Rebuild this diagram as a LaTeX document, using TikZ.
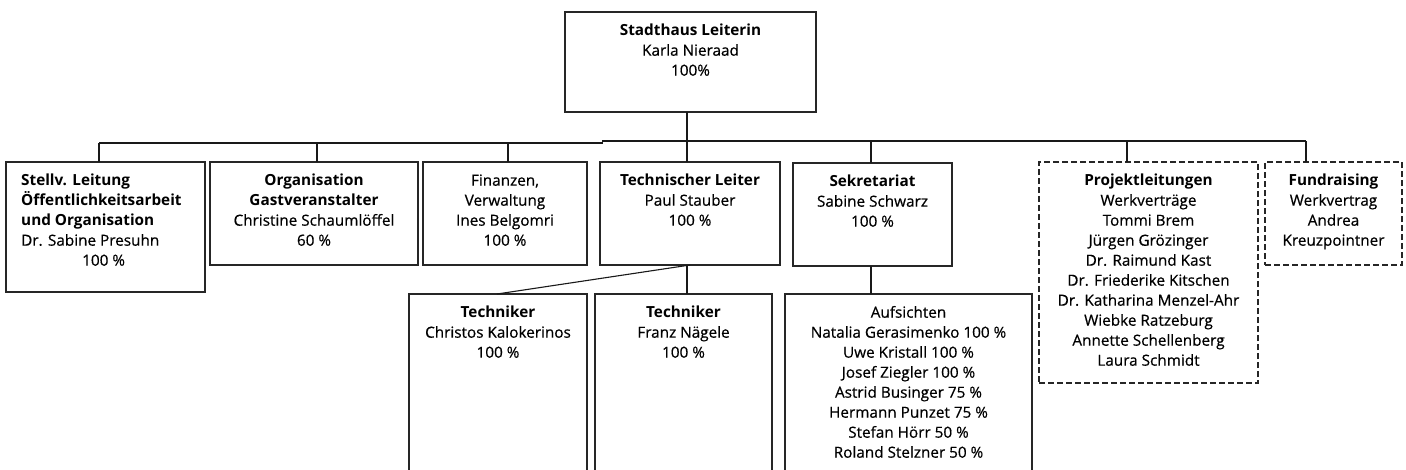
\documentclass[tikz,border=0pt]{standalone}
\usepackage{fontspec}
\setmainfont{Open Sans}[UprightFeatures={FakeBold=0.5}]
\newcommand\firstln{\rule{0pt}{12pt}}
\begin{document}
\begin{tikzpicture}[x=1pt,y=-1pt,
  box/.style={draw=black!85, line width=1.4pt, rectangle, inner sep=0pt, outer sep=0pt, anchor=north west},
  dbox/.style={box, dash pattern=on 6pt off 3pt},
  txt/.style={font=\fontsize{15.3}{20}\selectfont, align=center, inner sep=0pt, anchor=north, text=black},
  conn/.style={draw=black!90, line width=1.1pt}]
\useasboundingbox (0,0) rectangle (1406,469);
\fill[white] (0,0) rectangle (1406,469);
\clip (0,0) rectangle (1406,469);

% boxes
\node[box, minimum width=251pt, minimum height=100pt] (top) at (565,12) {};
\node[box, minimum width=199pt, minimum height=130pt] (b1) at (6,162) {};
\node[box, minimum width=208pt, minimum height=103pt] (b2) at (210,162) {};
\node[box, minimum width=164pt, minimum height=103pt] (b3) at (423,162) {};
\node[box, minimum width=180pt, minimum height=103pt] (b4) at (600,162) {};
\node[box, minimum width=159pt, minimum height=103pt] (b5) at (793,163) {};
\node[dbox, minimum width=219pt, minimum height=221pt] (b6) at (1039,162) {};
\node[dbox, minimum width=137pt, minimum height=103pt] (b7) at (1265,162) {};
\node[box, minimum width=178pt, minimum height=190pt] (t1) at (409,294) {};
\node[box, minimum width=177pt, minimum height=190pt] (t2) at (595,294) {};
\node[box, minimum width=247pt, minimum height=190pt] (auf) at (785,294) {};

% texts
\node[txt] (toptx) at ([yshift=-11.5pt]top.north) {\firstln\textbf{Stadthaus Leiterin}\\Karla Nieraad\\100\%};
\node[txt, anchor=north west, align=left] (b1tx) at (21,173.5) {\firstln\textbf{Stellv. Leitung}\\\textbf{Öffentlichkeitsarbeit}\\\textbf{und Organisation}\\Dr. Sabine Presuhn\\\hspace*{61pt}100 \%};
\node[txt] (b2tx) at ([yshift=-11.5pt]b2.north) {\firstln\textbf{Organisation}\\\textbf{Gastveranstalter}\\Christine Schaumlöffel\\60 \%};
\node[txt] (b3tx) at ([yshift=-11.5pt]b3.north) {\firstln Finanzen,\\Verwaltung\\Ines Belgomri\\100 \%};
\node[txt] (b4tx) at ([yshift=-11.5pt]b4.north) {\firstln\textbf{Technischer Leiter}\\Paul Stauber\\100 \%};
\node[txt] (b5tx) at ([yshift=-11.5pt]b5.north) {\firstln\textbf{Sekretariat}\\Sabine Schwarz\\100 \%};
\node[txt] (b6tx) at ([yshift=-11.5pt]b6.north) {\firstln\textbf{Projektleitungen}\\Werkverträge\\Tommi Brem\\Jürgen Grözinger\\Dr. Raimund Kast\\Dr. Friederike Kitschen\\Dr. Katharina Menzel-Ahr\\Wiebke Ratzeburg\\Annette Schellenberg\\Laura Schmidt};
\node[txt] (b7tx) at ([yshift=-11.5pt]b7.north) {\firstln\textbf{Fundraising}\\Werkvertrag\\Andrea\\Kreuzpointner};
\node[txt] (t1tx) at ([yshift=-11.5pt]t1.north) {\firstln\textbf{Techniker}\\Christos Kalokerinos\\100 \%};
\node[txt] (t2tx) at ([yshift=-11.5pt]t2.north) {\firstln\textbf{Techniker}\\Franz Nägele\\100 \%};
\node[txt] (auftx) at ([yshift=-11.5pt]auf.north) {\firstln Aufsichten\\Natalia Gerasimenko 100 \%\\Uwe Kristall 100 \%\\Josef Ziegler 100 \%\\Astrid Businger 75 \%\\Hermann Punzet 75 \%\\Stefan Hörr 50 \%\\Roland Stelzner 50 \%};

% bus coordinates
\coordinate (busL) at (99,143);
\coordinate (busJa) at (602.5,143);
\coordinate (busJb) at (602.5,141);
\coordinate (busR) at (1306,141);
\coordinate (busC) at (687,141);
\coordinate (d2) at (317,143);
\coordinate (d3) at (508,143);
\coordinate (d5) at (871,141);
\coordinate (d6) at (1127,141);
\coordinate (dA) at (690,266);
\coordinate (dB) at (497,294);

\draw[conn] (busL) -- (busJa) -- (busJb) -- (busR);
\draw[conn] (top.south -| busC) -- (b4.north -| busC);
\draw[conn] (busL) -- (b1.north -| busL);
\draw[conn] (d2) -- (b2.north -| d2);
\draw[conn] (d3) -- (b3.north -| d3);
\draw[conn] (d5) -- (b5.north -| d5);
\draw[conn] (d6) -- (b6.north -| d6);
\draw[conn] (busR) -- (b7.north -| busR);
\draw[conn] (b4.south -| busC) -- (t2.north -| busC);
\draw[conn] (b4.south -| dA) -- (t1.north -| dB);
\draw[conn] (b5.south -| d5) -- (auf.north -| d5);
\end{tikzpicture}
\end{document}
